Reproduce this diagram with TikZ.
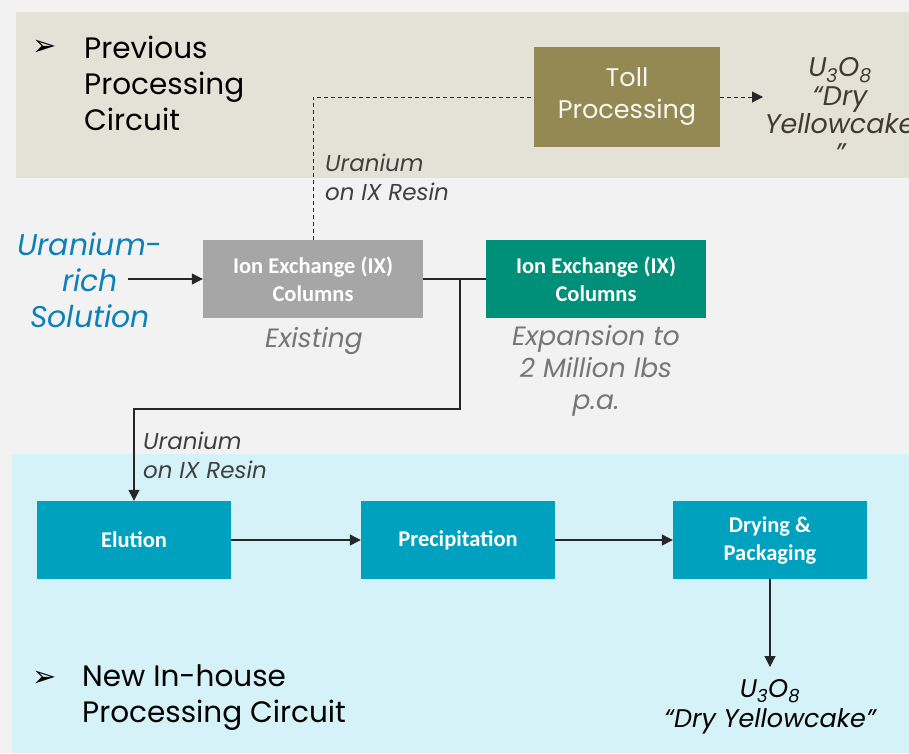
\documentclass[tikz,border=0pt]{standalone}
\usepackage{fontspec}
\setmainfont{Poppins}
\newfontfamily\boxfont{Carlito}
\newfontfamily\symfont{DejaVu Sans}
\usepackage{xcolor}
\usepackage{tikz}
\usetikzlibrary {arrows.meta,positioning}

\definecolor{pagegray}{HTML}{F2F2F2}
\definecolor{oldband}{HTML}{E4E2D6}
\definecolor{newband}{HTML}{D4F2F7}
\definecolor{tollolive}{HTML}{948953}
\definecolor{ixgray}{HTML}{A6A6A6}
\definecolor{ixteal}{HTML}{00907A}
\definecolor{stepcyan}{HTML}{00A0BF}
\definecolor{solblue}{HTML}{0E80B8}
\definecolor{notegray}{HTML}{767676}
\definecolor{resingray}{HTML}{404040}
\definecolor{cakeolive}{HTML}{403C2C}

\begin{document}
\begin{tikzpicture}[x=1pt,y=-1pt,
  procbox/.style={fill=#1, text=white, inner sep=0pt, align=center,
    font=\boxfont\bfseries\fontsize{22.5}{28}\selectfont},
  heading/.style={anchor=west, align=left, inner sep=0pt,
    font=\fontsize{29.5}{36}\selectfont},
  note/.style={align=center, inner sep=0pt, text=notegray,
    font=\itshape\fontsize{26.5}{32}\selectfont},
  resin/.style={anchor=west, align=left, inner sep=0pt, text=resingray,
    font=\itshape\fontsize{23}{29}\selectfont},
  flow/.style={line width=1.2pt, draw=black!85, -{Triangle[length=11pt,width=11pt]}},
  link/.style={line width=1.2pt, draw=black!85}]

% background and bands
\useasboundingbox (0,0) rectangle (909,753);
\fill[pagegray] (0,0) rectangle (909,753);
\fill[oldband] (16,12) rectangle (909,178);
\fill[newband] (12,454) rectangle (909,753);

% headings
\node (bul1) at (45,48) {\symfont\fontsize{29}{29}\selectfont ➢};
\node (head1) at (84,83) [heading]{Previous\\Processing\\Circuit};
\node (bul2) at (45,679) {\symfont\fontsize{29}{29}\selectfont ➢};
\node (head2) at (82,698) [heading]{New In-house\\Processing Circuit};

% process boxes
\node (toll) at (627,97) [procbox=tollolive, minimum width=186pt, minimum height=100pt,
  text=white!94!tollolive, font=\fontsize{25.5}{32}\selectfont]{Toll\\Processing};
\node (ix1) at (313,279) [procbox=ixgray, minimum width=220pt, minimum height=78pt]{Ion Exchange (IX)\\Columns};
\node (ix2) at (596,279) [procbox=ixteal, minimum width=220pt, minimum height=78pt]{Ion Exchange (IX)\\Columns};
\node (elution) at (134,540) [procbox=stepcyan, minimum width=194pt, minimum height=78pt]{Elution};
\node (precip) at (458,540) [procbox=stepcyan, minimum width=194pt, minimum height=78pt]{Precipitation};
\node (drying) at (770,540) [procbox=stepcyan, minimum width=194pt, minimum height=78pt]{Drying \&\\Packaging};

% texts
\node (solution) at (90,280) [align=center, inner sep=0pt, text=solblue,
  font=\itshape\fontsize{30}{36}\selectfont]{Uranium-\\rich\\Solution};
\node (resin1) at (325,177) [resin]{Uranium\\on IX Resin};
\node (resin2) at (143,455) [resin]{Uranium\\on IX Resin};
\node (existing) at (314,341) [note]{Existing};
\node (expansion) at (596,371) [note]{Expansion to\\2 Million lbs\\p.a.};
\node (cake1) at (840,110) [align=center, inner sep=0pt, text=cakeolive,
  font=\itshape\fontsize{27}{28.5}\selectfont]{U\textsubscript{3}O\textsubscript{8}\\“Dry\\Yellowcake\\”};
\node (cake2) at (770,707) [align=center, inner sep=0pt, text=black,
  font=\itshape\fontsize{25.5}{30}\selectfont]{U\textsubscript{3}O\textsubscript{8}\\“Dry Yellowcake”};

% connectors
\coordinate (solin) at (128,279);
\coordinate (split) at (460,279);
\coordinate (bend) at (134,409);
\coordinate (tollout) at (763,97);
\coordinate (dryout) at (770,667);

\draw[link, dash pattern=on 4pt off 3pt, line width=1pt] (ix1.north) |- (toll.west);
\draw[flow, dash pattern=on 4pt off 3pt, line width=1pt] (toll.east) -- (tollout);
\draw[flow] (solin) -- (ix1.west);
\draw[link] (ix1.east) -- (ix2.west);
\draw[flow] (split) |- (bend) -- (elution.north);
\draw[flow] (elution) -- (precip);
\draw[flow] (precip) -- (drying);
\draw[flow] (drying) -- (dryout);

\end{tikzpicture}
\end{document}
